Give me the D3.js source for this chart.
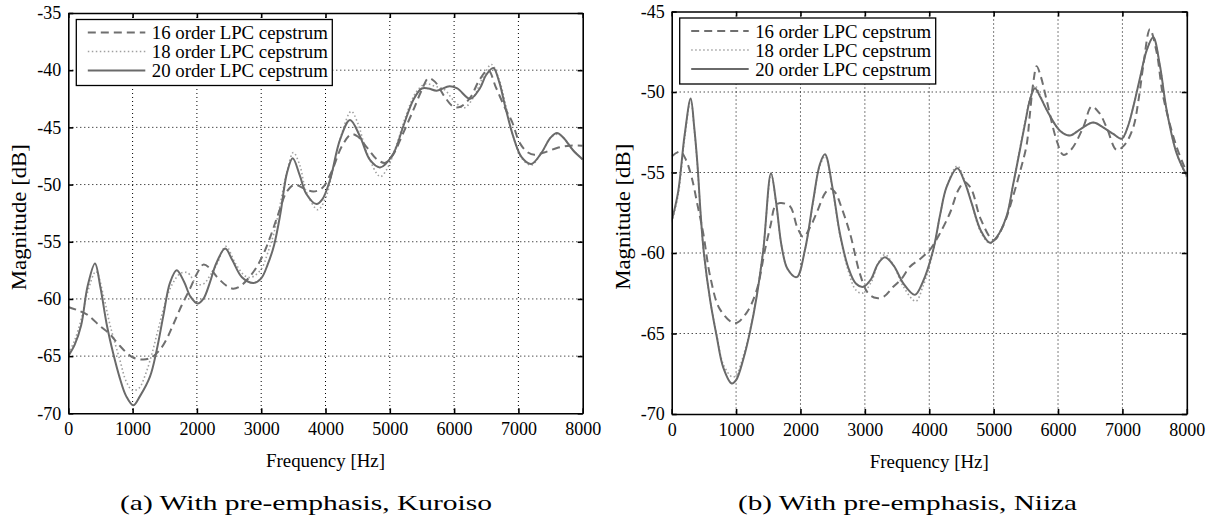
<!DOCTYPE html>
<head>
  <meta charset="utf-8">
  <script src="https://d3js.org/d3.v7.min.js"></script>
  <style>
    body {
      margin: 0;
      background-color: #fff;
    }
    svg text {
      font-family: "Liberation Serif", "Times New Roman", serif;
      fill: #000;
    }
  </style>
</head>

<body>
  <div id="chart"></div>
  <script>
    // tick labels and legend names
    var freqTicks = [0, 1000, 2000, 3000, 4000, 5000, 6000, 7000, 8000];
    var kuroisoTicks = [-70, -65, -60, -55, -50, -45, -40, -35];
    var niizaTicks = [-70, -65, -60, -55, -50, -45];
    var seriesNames = ['16 order LPC cepstrum', '18 order LPC cepstrum', '20 order LPC cepstrum'];
    var captions = ['(a)  With pre-emphasis, Kuroiso', '(b)  With pre-emphasis, Niiza'];

    // (a) Kuroiso, [frequency Hz, magnitude dB]
    var kuroiso16 = [[0, -60.7], [150, -61.0], [300, -61.4], [500, -62.4], [650, -63.1], [800, -64.1],
      [1000, -65.1], [1170, -65.3], [1300, -65.1], [1430, -64.4], [1530, -63.5], [1620, -62.4],
      [1760, -60.6], [1893, -59.1], [2000, -57.8], [2100, -57.0], [2200, -57.3], [2308, -58.05],
      [2450, -58.8], [2560, -59.1], [2670, -58.9], [2800, -58.2], [2930, -57.2], [3040, -56.0],
      [3140, -54.6], [3270, -52.5], [3400, -50.6], [3520, -50.0], [3650, -50.3], [3810, -50.6],
      [3950, -50.3], [4100, -48.8], [4250, -46.7], [4400, -45.6], [4500, -45.8], [4650, -46.8],
      [4800, -47.8], [4930, -48.1], [5050, -47.4], [5200, -45.6], [5365, -43.5], [5500, -41.7],
      [5600, -40.7], [5700, -41.0], [5850, -42.3], [5990, -43.2], [6100, -43.2], [6250, -42.4],
      [6400, -40.8], [6530, -40.0], [6650, -41.5], [6800, -43.4], [6900, -44.5], [7025, -46.4],
      [7150, -47.2], [7250, -47.4], [7400, -47.2], [7600, -46.8], [7800, -46.6], [8000, -46.6]];
    var kuroiso18 = [[0, -64.8], [100, -63.6], [200, -61.8], [300, -59.4], [430, -57.6], [550, -59.8],
      [650, -62.3], [800, -65.3], [900, -67.2], [1000, -68.0], [1100, -67.8], [1200, -66.6],
      [1300, -64.8], [1400, -62.6], [1500, -60.5], [1600, -58.9], [1737, -57.8], [1850, -57.7],
      [2000, -58.7], [2100, -58.7], [2200, -58.0], [2308, -57.0], [2450, -55.4], [2600, -56.9],
      [2750, -58.0], [2850, -58.1], [3000, -57.4], [3100, -56.0], [3200, -54.2], [3300, -51.6],
      [3400, -48.9], [3500, -47.2], [3600, -48.3], [3700, -50.6], [3880, -52.2], [4000, -51.2],
      [4100, -49.1], [4250, -45.6], [4400, -43.6], [4500, -44.6], [4650, -47.3], [4850, -49.3],
      [4950, -48.7], [5100, -46.6], [5250, -44.0], [5400, -42.0], [5550, -41.2], [5700, -41.4],
      [5850, -41.7], [6000, -42.7], [6150, -43.3], [6300, -42.4], [6450, -40.6], [6580, -39.5],
      [6700, -40.8], [6800, -43.0], [6920, -45.8], [7050, -47.7], [7200, -48.3], [7350, -47.3],
      [7500, -45.9], [7600, -45.6], [7700, -45.9], [7850, -47.0], [8000, -47.8]];
    var kuroiso20 = [[0, -65.0], [100, -64.0], [200, -62.3], [300, -58.9], [415, -56.9], [500, -59.0],
      [600, -62.3], [700, -64.8], [800, -66.9], [900, -68.5], [1010, -69.3], [1115, -68.5],
      [1270, -66.8], [1374, -64.5], [1477, -61.5], [1581, -58.6], [1686, -57.5], [1800, -58.5],
      [1900, -59.8], [2010, -60.4], [2100, -60.0], [2200, -58.6], [2300, -56.9], [2440, -55.6],
      [2550, -56.6], [2700, -58.1], [2880, -58.6], [3000, -58.2], [3100, -57.0], [3200, -55.3],
      [3300, -52.5], [3400, -49.0], [3490, -47.7], [3600, -49.2], [3700, -50.8], [3860, -51.7],
      [3950, -51.3], [4070, -49.6], [4225, -46.1], [4381, -44.35], [4537, -45.8], [4692, -47.85],
      [4848, -48.5], [5054, -47.3], [5210, -44.9], [5365, -42.6], [5496, -41.6], [5600, -41.6],
      [5730, -41.8], [5930, -41.4], [6050, -41.6], [6250, -42.5], [6400, -41.6], [6500, -40.4],
      [6610, -39.8], [6700, -41.0], [6800, -43.3], [6920, -45.8], [7050, -47.6], [7200, -48.2],
      [7350, -47.3], [7500, -45.9], [7600, -45.5], [7700, -45.9], [7850, -47.0], [8000, -47.8]];

    // (b) Niiza, [frequency Hz, magnitude dB]
    var niiza16 = [[0, -54.0], [130, -53.7], [220, -54.2], [310, -55.3], [400, -57.0], [491, -58.8],
      [600, -61.5], [750, -63.5], [983, -64.37], [1165, -63.7], [1320, -62.3], [1449, -59.8],
      [1540, -58.2], [1604, -57.1], [1682, -56.9], [1837, -57.1], [1950, -58.4], [2044, -59.0],
      [2150, -58.4], [2252, -57.5], [2380, -56.3], [2458, -56.0], [2550, -56.3], [2613, -56.9],
      [2770, -58.8], [2924, -61.3], [3050, -62.5], [3183, -62.8], [3300, -62.7], [3441, -62.1],
      [3570, -61.6], [3700, -60.85], [3850, -60.4], [4010, -59.8], [4150, -58.9], [4323, -57.5],
      [4450, -56.1], [4550, -55.6], [4650, -56.0], [4800, -57.9], [5000, -59.2], [5150, -58.3],
      [5300, -56.5], [5420, -54.8], [5512, -53.3], [5560, -51.5], [5620, -49.3], [5668, -48.4],
      [5730, -49.0], [5823, -50.5], [5978, -53.0], [6081, -53.9], [6200, -53.6], [6391, -52.2],
      [6522, -50.9], [6640, -51.3], [6755, -52.2], [6910, -53.6], [7030, -53.3], [7168, -52.2],
      [7250, -50.5], [7323, -48.4], [7427, -46.1], [7530, -47.5], [7634, -50.3], [7841, -53.4],
      [8000, -55.0]];
    var niiza18 = [[0, -58.1], [100, -56.4], [200, -52.9], [295, -50.5], [350, -52.3], [400, -54.6],
      [450, -57.7], [500, -60.1], [600, -63.0], [700, -65.1], [800, -66.9], [940, -67.7],
      [1000, -67.6], [1112, -66.4], [1216, -64.8], [1320, -62.6], [1423, -59.7], [1545, -55.1],
      [1620, -56.9], [1708, -59.6], [1800, -61.0], [1941, -61.5], [2070, -59.8], [2199, -56.8],
      [2300, -54.6], [2385, -54.0], [2500, -56.1], [2613, -58.9], [2742, -61.1], [2860, -62.3],
      [2960, -62.5], [3100, -61.8], [3200, -60.7], [3310, -60.1], [3450, -60.8], [3600, -62.1],
      [3790, -63.0], [3900, -62.1], [4062, -59.9], [4170, -57.6], [4270, -55.9], [4435, -54.6],
      [4550, -55.5], [4658, -56.9], [4800, -58.7], [4942, -59.4], [5050, -59.0], [5202, -57.7],
      [5300, -55.8], [5408, -53.5], [5500, -51.6], [5563, -50.4], [5641, -49.6], [5723, -50.2],
      [5823, -51.1], [6030, -52.4], [6185, -52.7], [6350, -52.3], [6547, -51.9], [6700, -52.2],
      [6857, -52.6], [6990, -52.9], [7080, -52.2], [7170, -50.9], [7280, -49.0], [7378, -47.4],
      [7478, -46.6], [7580, -48.3], [7686, -51.1], [7841, -53.8], [8000, -55.3]];
    var niiza20 = [[0, -58.0], [100, -56.2], [200, -52.7], [295, -50.4], [350, -52.2], [400, -54.5],
      [450, -57.6], [500, -60.0], [600, -63.0], [700, -65.2], [800, -67.1], [932, -68.1],
      [1000, -67.9], [1112, -66.6], [1216, -64.9], [1320, -62.7], [1423, -59.8], [1542, -55.05],
      [1620, -56.8], [1708, -59.6], [1800, -61.0], [1941, -61.5], [2070, -59.8], [2199, -56.7],
      [2300, -54.5], [2380, -53.87], [2500, -56.0], [2613, -58.8], [2742, -60.9], [2860, -61.9],
      [2975, -62.1], [3100, -61.6], [3200, -60.7], [3312, -60.27], [3450, -60.8], [3600, -61.9],
      [3778, -62.6], [3900, -61.8], [4062, -59.8], [4170, -57.6], [4270, -55.9], [4435, -54.74],
      [4550, -55.6], [4658, -56.9], [4800, -58.6], [4942, -59.36], [5050, -59.0], [5202, -57.7],
      [5300, -55.8], [5408, -53.6], [5500, -51.7], [5563, -50.5], [5641, -49.77], [5723, -50.3],
      [5823, -51.1], [6030, -52.4], [6185, -52.7], [6350, -52.3], [6547, -51.9], [6700, -52.2],
      [6857, -52.6], [6990, -52.9], [7080, -52.2], [7170, -50.9], [7280, -49.0], [7378, -47.4],
      [7478, -46.6], [7580, -48.3], [7686, -51.1], [7841, -53.8], [8000, -55.2]];

    // line styles: dashed, dotted, solid
    var styles = [
      { color: '#6f6f6f', width: 2, dash: '8,5' },
      { color: '#a0a0a0', width: 1.6, dash: '1.5,2.5' },
      { color: '#6a6a6a', width: 2, dash: null }
    ];

    var svg = d3.select('#chart').append('svg')
      .attr('width', 1213)
      .attr('height', 519);

    function drawPanel(id, box, yTicks, series, caption, capBox) {
      var x = d3.scaleLinear().domain([0, 8000]).range([box.left, box.right]);
      var y = d3.scaleLinear().domain([yTicks[0], yTicks[yTicks.length - 1]]).range([box.bottom, box.top]);
      var g = svg.append('g');

      // dotted grid
      var grid = g.append('g').attr('stroke', '#000').attr('stroke-width', 1).attr('stroke-dasharray', '1,3');
      freqTicks.slice(1, -1).forEach(function(t) {
        grid.append('line').attr('x1', x(t)).attr('x2', x(t)).attr('y1', box.top).attr('y2', box.bottom);
      });
      yTicks.slice(1, -1).forEach(function(t) {
        grid.append('line').attr('x1', box.left).attr('x2', box.right).attr('y1', y(t)).attr('y2', y(t));
      });

      // curves
      g.append('clipPath').attr('id', 'clip' + id).append('rect')
        .attr('x', box.left).attr('y', box.top)
        .attr('width', box.right - box.left).attr('height', box.bottom - box.top);
      var line = d3.line()
        .x(function(d) { return x(d[0]); })
        .y(function(d) { return y(d[1]); })
        .curve(d3.curveCatmullRom.alpha(0.5));
      [1, 0, 2].forEach(function(i) {
        g.append('path')
          .attr('clip-path', 'url(#clip' + id + ')')
          .attr('d', line(series[i]))
          .attr('fill', 'none')
          .attr('stroke', styles[i].color)
          .attr('stroke-width', styles[i].width)
          .attr('stroke-dasharray', styles[i].dash);
      });

      // axes with inward ticks
      var fmt = function(d) { return d; };
      var ax = g.append('g').attr('transform', 'translate(0,' + box.bottom + ')')
        .call(d3.axisBottom(x).tickValues(freqTicks).tickSize(-5).tickSizeOuter(0).tickPadding(9).tickFormat(fmt));
      var ay = g.append('g').attr('transform', 'translate(' + box.left + ',0)')
        .call(d3.axisLeft(y).tickValues(yTicks).tickSize(-5).tickSizeOuter(0).tickPadding(7).tickFormat(fmt));
      var at = g.append('g').attr('transform', 'translate(0,' + box.top + ')')
        .call(d3.axisTop(x).tickValues(freqTicks).tickSize(-5).tickSizeOuter(0).tickFormat(''));
      var ar = g.append('g').attr('transform', 'translate(' + box.right + ',0)')
        .call(d3.axisRight(y).tickValues(yTicks).tickSize(-5).tickSizeOuter(0).tickFormat(''));
      [ax, ay, at, ar].forEach(function(a) {
        a.selectAll('path, line').attr('stroke', '#000').attr('stroke-width', 1.6);
        a.selectAll('text').attr('font-size', 18).attr('font-family', null).attr('fill', '#000');
      });

      // axis titles
      g.append('text')
        .attr('x', (box.left + box.right) / 2).attr('y', box.bottom + 54)
        .attr('text-anchor', 'middle').attr('font-size', 18.5)
        .attr('textLength', 119).attr('lengthAdjust', 'spacingAndGlyphs')
        .text('Frequency [Hz]');
      g.append('text')
        .attr('transform', 'translate(' + (box.left - 42) + ',' + ((box.top + box.bottom) / 2 + 4) + ') rotate(-90)')
        .attr('text-anchor', 'middle').attr('font-size', 20)
        .attr('textLength', 146).attr('lengthAdjust', 'spacingAndGlyphs')
        .text('Magnitude [dB]');

      // legend
      var lx = box.left + 8, ly = box.top + 6.5;
      var lg = g.append('g');
      lg.append('rect').attr('x', lx).attr('y', ly).attr('width', 256).attr('height', 66)
        .attr('fill', '#fff').attr('stroke', '#000').attr('stroke-width', 1.3);
      seriesNames.forEach(function(name, i) {
        var ry = ly + 13 + i * 19;
        lg.append('line').attr('x1', lx + 11.5).attr('x2', lx + 69).attr('y1', ry).attr('y2', ry)
          .attr('stroke', styles[i].color).attr('stroke-width', styles[i].width)
          .attr('stroke-dasharray', styles[i].dash);
        lg.append('text').attr('x', lx + 75.5).attr('y', ry + 6.5)
          .attr('font-size', 18).attr('textLength', 176).attr('lengthAdjust', 'spacingAndGlyphs')
          .text(name);
      });

      // caption
      svg.append('text')
        .attr('x', capBox[0]).attr('y', 509.5)
        .attr('font-size', 21)
        .attr('textLength', capBox[1] - capBox[0])
        .attr('lengthAdjust', 'spacingAndGlyphs')
        .text(caption);
    }

    drawPanel('a', { left: 68.3, right: 582.7, top: 13, bottom: 413.3 }, kuroisoTicks,
      [kuroiso16, kuroiso18, kuroiso20], captions[0], [120, 492]);
    drawPanel('b', { left: 671.7, right: 1186.8, top: 11.5, bottom: 414 }, niizaTicks,
      [niiza16, niiza18, niiza20], captions[1], [738, 1077]);
  </script>
</body>
